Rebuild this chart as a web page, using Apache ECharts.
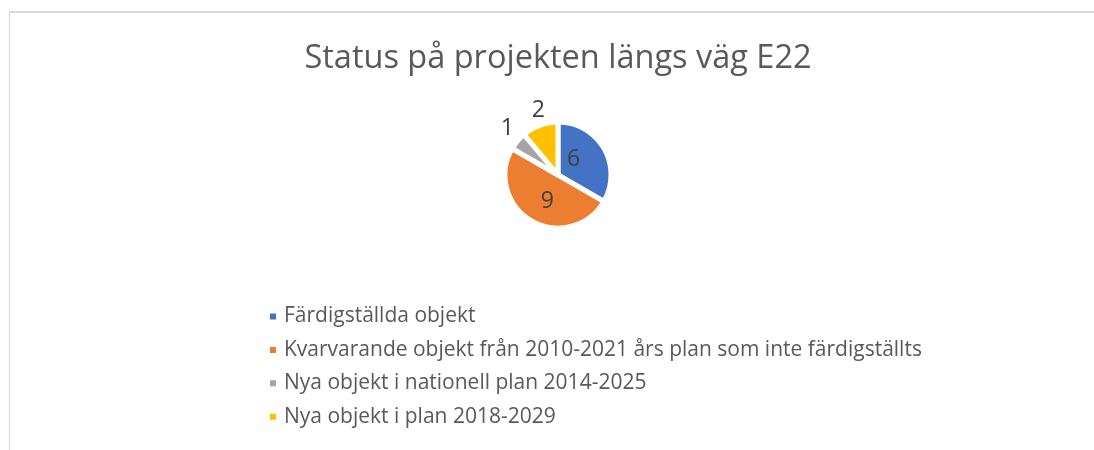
<!DOCTYPE html>
<html>
<head>
<meta charset="utf-8">
<script src="https://cdn.jsdelivr.net/npm/echarts@6/dist/echarts.min.js"></script>
<style>
html,body{margin:0;padding:0;background:#fff;}
#chart{position:absolute;left:0;top:0;width:1094px;height:450px;}
#frame{position:absolute;left:9px;top:11px;width:1100px;height:460px;border-left:1px solid #d9d9d9;border-top:2px solid #d9d9d9;pointer-events:none;}
</style>
</head>
<body>
<div id="chart"></div>
<div id="frame"></div>
<script>
var titleText = 'Status på projekten längs väg E22';
var categories = ['Färdigställda objekt', 'Kvarvarande objekt från 2010-2021 års plan som inte färdigställts', 'Nya objekt i nationell plan 2014-2025', 'Nya objekt i plan 2018-2029'];
var values = [6, 9, 1, 2];

var colors = ['#4472C4', '#ED7D31', '#A5A5A5', '#FFC000'];
var labelPlacement = ['inside', 'inside', 'outside', 'outside'];
var labelNudge = [[-10, -1], [4, 1], [6, -9], [12, -9]];

var FONT = 'Open Sans';
var chart = echarts.init(document.getElementById('chart'), null, {renderer: 'canvas'});
var data = categories.map(function (c, i) {
  return {
    name: c,
    value: values[i],
    itemStyle: {color: colors[i]},
    label: {position: labelPlacement[i], offset: labelNudge[i]}
  };
});
chart.setOption({
  animation: false,
  title: {
    text: titleText,
    top: 37,
    left: 553,
    textAlign: 'center',
    textStyle: {fontFamily: FONT, fontSize: 32.5, fontWeight: 'normal', color: '#595959'}
  },
  legend: {
    orient: 'vertical',
    left: 263,
    top: 301,
    icon: 'rect',
    itemWidth: 8,
    itemHeight: 8,
    itemGap: 12.4,
    textStyle: {fontFamily: FONT, fontSize: 21, lineHeight: 21, color: '#595959', padding: [0, 0, 0, 2]},
    data: categories
  },
  series: [{
    type: 'pie',
    center: [558, 175],
    radius: 53,
    startAngle: 90,
    clockwise: true,
    avoidLabelOverlap: false,
    itemStyle: {borderColor: '#fff', borderWidth: 5},
    label: {
      show: true,
      formatter: '{c}',
      fontFamily: FONT,
      fontSize: 23,
      color: '#404040'
    },
    labelLine: {show: false, length: 6, length2: 0},
    data: data
  }]
});
</script>
</body>
</html>
